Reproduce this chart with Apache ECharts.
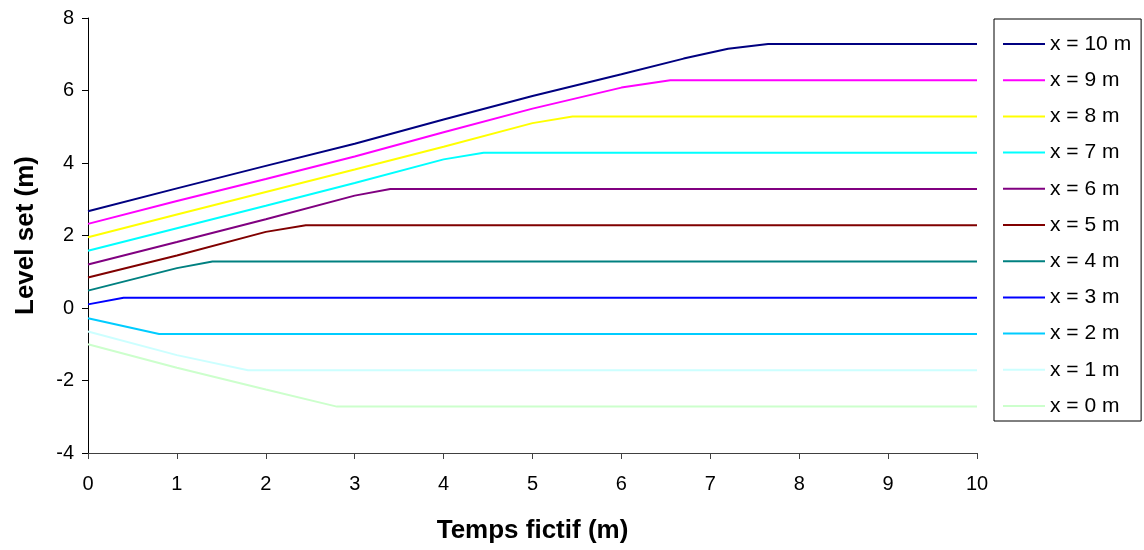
<!DOCTYPE html>
<html>
<head>
<meta charset="utf-8">
<title>Level set</title>
<script src="https://cdn.jsdelivr.net/npm/echarts@6/dist/echarts.min.js"></script>
<style>
  html, body { margin: 0; padding: 0; background: #fff; }
  #chart { width: 1144px; height: 550px; }
</style>
</head>
<body>
<div id="chart"></div>
<script>
// Level set value against pseudo-time, one curve per position x.
// Each curve: [temps fictif, level set] pairs.
const seriesNames = ['x = 10 m', 'x = 9 m', 'x = 8 m', 'x = 7 m', 'x = 6 m', 'x = 5 m',
                     'x = 4 m', 'x = 3 m', 'x = 2 m', 'x = 1 m', 'x = 0 m'];

const levelX10 = [[0, 2.67], [1, 3.3], [2, 3.92], [3, 4.53], [4, 5.2], [5, 5.85],
                  [6, 6.45], [6.7, 6.88], [7.2, 7.15], [7.65, 7.28], [10, 7.28]];
const levelX9  = [[0, 2.32], [1, 2.95], [2, 3.56], [3, 4.18], [4, 4.85], [5, 5.5],
                  [6, 6.08], [6.55, 6.28], [10, 6.28]];
const levelX8  = [[0, 1.95], [1, 2.58], [2, 3.2], [3, 3.82], [4, 4.45], [5, 5.1],
                  [5.45, 5.28], [10, 5.28]];
const levelX7  = [[0, 1.58], [1, 2.2], [2, 2.82], [3, 3.45], [4, 4.1], [4.45, 4.28], [10, 4.28]];
const levelX6  = [[0, 1.2], [1, 1.82], [2, 2.45], [3, 3.1], [3.4, 3.28], [10, 3.28]];
const levelX5  = [[0, 0.84], [1, 1.45], [2, 2.1], [2.45, 2.28], [10, 2.28]];
const levelX4  = [[0, 0.48], [1, 1.1], [1.4, 1.28], [10, 1.28]];
const levelX3  = [[0, 0.1], [0.4, 0.28], [10, 0.28]];
const levelX2  = [[0, -0.28], [0.8, -0.72], [10, -0.72]];
const levelX1  = [[0, -0.65], [1, -1.3], [1.8, -1.72], [10, -1.72]];
const levelX0  = [[0, -1.0], [1, -1.65], [2, -2.25], [2.8, -2.72], [10, -2.72]];

const seriesData = [levelX10, levelX9, levelX8, levelX7, levelX6, levelX5,
                    levelX4, levelX3, levelX2, levelX1, levelX0];

const palette = ['#000080', '#FF00FF', '#FFFF00', '#00FFFF', '#800080', '#800000',
                 '#008080', '#0000FF', '#00CCFF', '#CCFFFF', '#CCFFCC'];

const xTicks = { min: 0, max: 10, interval: 1 };
const yTicks = { min: -4, max: 8, interval: 2 };

const FONT = '"Liberation Sans", Arial, sans-serif';

const chart = echarts.init(document.getElementById('chart'), null, { renderer: 'canvas' });

chart.setOption({
  animation: false,
  backgroundColor: '#ffffff',
  color: palette,
  grid: { left: 88, top: 18, right: 167, bottom: 97, containLabel: false },
  legend: {
    orient: 'vertical',
    left: 994,
    top: 19,
    padding: [14.5, 10, 4.5, 9],
    icon: 'rect',
    itemWidth: 42,
    itemHeight: 2,
    itemGap: 15.2,
    borderColor: '#000',
    borderWidth: 1,
    borderRadius: 0,
    textStyle: { fontFamily: FONT, fontSize: 21, color: '#000' },
    data: seriesNames
  },
  xAxis: {
    type: 'value',
    min: xTicks.min, max: xTicks.max, interval: xTicks.interval,
    name: 'Temps fictif (m)',
    nameLocation: 'middle',
    nameGap: 65,
    nameTextStyle: { fontFamily: FONT, fontSize: 26, fontWeight: 'bold', color: '#000' },
    axisLine: { show: true, onZero: false, lineStyle: { color: '#404040', width: 1 } },
    axisTick: { show: true, length: 6, inside: false, lineStyle: { color: '#404040' } },
    axisLabel: { margin: 21, fontFamily: FONT, fontSize: 20, color: '#000' },
    splitLine: { show: false }
  },
  yAxis: {
    type: 'value',
    min: yTicks.min, max: yTicks.max, interval: yTicks.interval,
    name: 'Level set (m)',
    nameLocation: 'middle',
    nameGap: 49,
    nameTextStyle: { fontFamily: FONT, fontSize: 26, fontWeight: 'bold', color: '#000' },
    axisLine: { show: true, onZero: false, lineStyle: { color: '#000', width: 1 } },
    axisTick: { show: true, length: 6, inside: false, lineStyle: { color: '#000' } },
    axisLabel: { margin: 14, fontFamily: FONT, fontSize: 20, color: '#000' },
    splitLine: { show: false }
  },
  series: seriesNames.map((name, i) => ({
    name: name,
    type: 'line',
    data: seriesData[i],
    symbol: 'none',
    showSymbol: false,
    smooth: false,
    lineStyle: { width: 2, color: palette[i] },
    itemStyle: { color: palette[i] },
    z: 2 + (seriesNames.length - i)
  }))
});
</script>
</body>
</html>
